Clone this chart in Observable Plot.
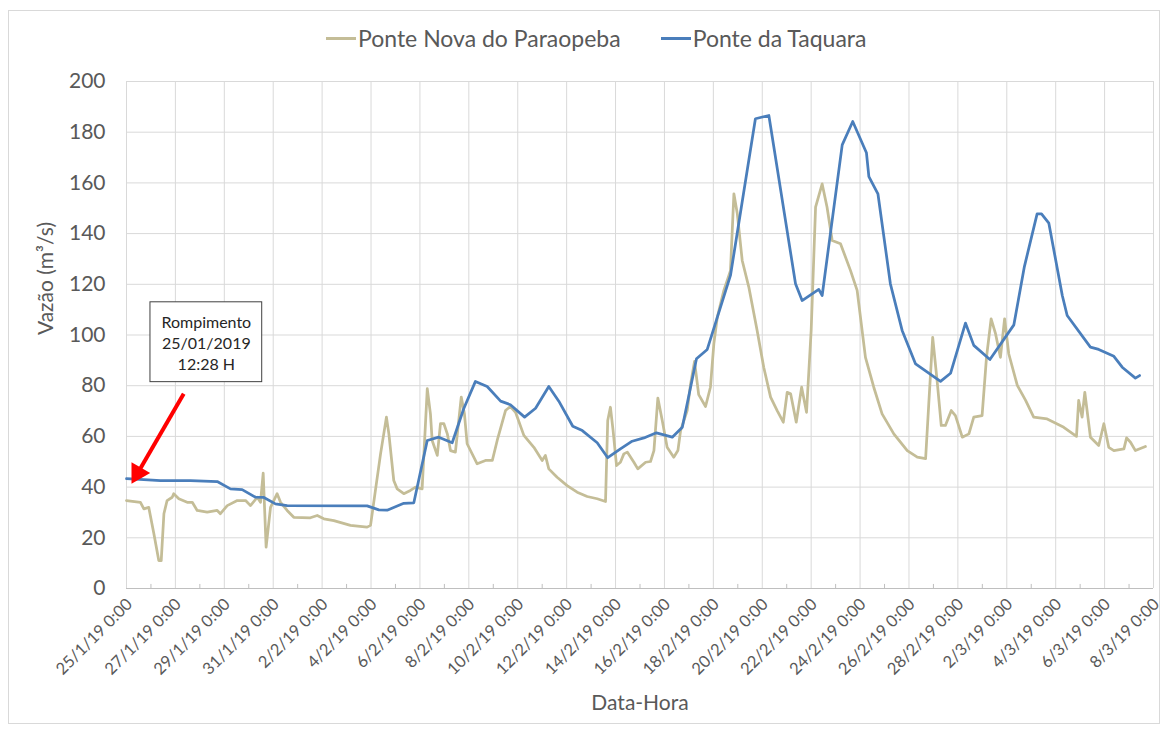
<!DOCTYPE html>
<html>
<head>
<meta charset="utf-8">
<script src="https://cdn.jsdelivr.net/npm/d3@7"></script>
<script src="https://cdn.jsdelivr.net/npm/@observablehq/plot@0.6"></script>
<style>
  html, body { margin: 0; padding: 0; background: #fff; }
  #wrap { position: relative; width: 1170px; height: 733px; font-family: Lato, "Open Sans", sans-serif; }
  #frame { position: absolute; left: 8px; top: 10px; width: 1152px; height: 714px; border: 1px solid #d9d9d9; box-sizing: border-box; pointer-events: none; }
  #legend { position: absolute; top: 23px; left: 326px; display: flex; gap: 40px; font-size: 23px; line-height: 30px; color: #595959; white-space: nowrap; }
  .item { display: flex; align-items: center; gap: 2px; }
  .swatch { width: 30px; height: 3px; display: inline-block; }
  #chart { position: absolute; left: 0; top: 0; }
</style>
</head>
<body>
<div id="wrap">
  <div id="chart"></div>
  <div id="frame"></div>
  <div id="legend"></div>
</div>
<script>
// Base date: 25/01/2019 00:00 (UTC); times are offsets in days from it
const baseDate = Date.UTC(2019, 0, 25);
const seriesNames = ["Ponte Nova do Paraopeba", "Ponte da Taquara"];
const seriesColors = ["#C4BD97", "#4A7EBB"];

// Ponte Nova do Paraopeba
const pnDays = [0, 0.57, 0.71, 0.91, 1.12, 1.32, 1.42, 1.53, 1.66, 1.87, 1.93, 2.14, 2.48, 2.69, 2.89, 3.30, 3.71, 3.84, 4.12, 4.53, 4.87, 5.07, 5.35, 5.48, 5.59, 5.71, 5.89, 6.16, 6.30, 6.57, 6.84, 7.52, 7.80, 8.07, 8.48, 9.16, 9.84, 9.98, 10.18, 10.39, 10.63, 10.73, 10.93, 11.07, 11.34, 11.61, 11.82, 12.09, 12.30, 12.43, 12.50, 12.71, 12.84, 12.98, 13.12, 13.25, 13.45, 13.69, 13.82, 13.93, 14.34, 14.68, 14.96, 15.16, 15.50, 15.70, 15.91, 16.25, 16.66, 17.00, 17.13, 17.27, 17.61, 18.02, 18.43, 18.84, 19.25, 19.59, 19.68, 19.79, 19.90, 20.04, 20.20, 20.34, 20.48, 20.75, 20.91, 21.23, 21.43, 21.57, 21.73, 21.91, 22.11, 22.38, 22.55, 22.66, 22.93, 23.07, 23.23, 23.40, 23.68, 23.88, 24.02, 24.16, 24.43, 24.70, 24.84, 24.98, 25.18, 25.45, 25.79, 26.06, 26.34, 26.61, 26.86, 27.02, 27.16, 27.39, 27.61, 27.81, 28.00, 28.18, 28.45, 28.65, 28.86, 29.20, 29.61, 29.88, 30.22, 30.56, 30.90, 31.38, 31.93, 32.34, 32.68, 32.81, 32.97, 33.15, 33.32, 33.49, 33.73, 33.90, 34.18, 34.45, 34.65, 34.99, 35.17, 35.36, 35.54, 35.74, 35.91, 36.08, 36.43, 36.77, 37.10, 37.65, 37.92, 38.33, 38.85, 38.94, 39.08, 39.19, 39.42, 39.76, 39.97, 40.17, 40.38, 40.79, 40.90, 41.06, 41.26, 41.67];
const pnValues = [34.7, 34.0, 31.4, 32.0, 21.6, 11.0, 11.0, 29.5, 34.7, 36.0, 37.4, 35.4, 34.0, 34.0, 30.8, 30.1, 30.8, 29.5, 32.7, 34.7, 34.7, 32.7, 36.0, 34.0, 45.5, 16.3, 32.0, 37.4, 34.0, 30.8, 28.1, 27.9, 28.8, 27.5, 26.8, 24.9, 24.2, 24.9, 38.7, 53.1, 67.6, 61.0, 42.6, 39.3, 37.4, 38.7, 40.0, 39.3, 78.8, 68.9, 58.4, 52.5, 65.0, 65.0, 61.0, 54.4, 53.8, 75.5, 68.9, 57.1, 49.2, 50.5, 50.5, 58.4, 70.2, 71.8, 69.5, 60.4, 55.7, 50.5, 52.5, 47.2, 43.9, 40.6, 38.0, 36.3, 35.4, 34.3, 66.3, 71.5, 62.3, 48.5, 49.8, 53.1, 53.8, 49.8, 47.2, 49.8, 50.1, 54.4, 75.1, 66.3, 55.7, 51.8, 54.4, 62.3, 70.2, 80.7, 89.6, 76.5, 71.8, 79.4, 96.5, 107.0, 117.6, 125.4, 155.7, 147.8, 129.4, 118.9, 101.8, 87.3, 75.5, 70.2, 65.6, 77.4, 76.8, 65.6, 79.4, 69.5, 101.8, 150.4, 159.6, 150.4, 137.3, 136.0, 125.4, 117.6, 91.2, 79.4, 68.9, 61.0, 54.4, 51.8, 51.2, 72.9, 99.1, 82.0, 64.3, 64.3, 70.2, 68.2, 59.7, 61.0, 67.6, 68.2, 91.2, 106.4, 100.5, 91.2, 106.4, 92.6, 80.1, 74.2, 67.6, 66.9, 65.6, 63.6, 60.0, 74.2, 67.6, 77.4, 59.7, 56.4, 65.0, 55.7, 54.4, 55.1, 59.4, 57.7, 54.4, 56.0];

// Ponte da Taquara
const ptDays = [0, 0.37, 1.39, 2.62, 3.71, 4.25, 4.73, 5.28, 5.62, 6.09, 6.57, 9.84, 10.32, 10.66, 11.34, 11.75, 12.30, 12.77, 13.32, 13.79, 14.27, 14.75, 15.30, 15.70, 16.28, 16.73, 17.27, 17.68, 18.25, 18.64, 19.25, 19.68, 20.20, 20.68, 21.16, 21.67, 22.32, 22.73, 23.31, 23.75, 24.70, 25.72, 26.27, 27.36, 27.63, 28.31, 28.45, 29.27, 29.70, 30.26, 30.36, 30.73, 31.24, 31.72, 32.27, 33.29, 33.70, 34.31, 34.65, 35.31, 36.29, 36.72, 37.24, 37.42, 37.72, 38.27, 38.47, 39.42, 39.76, 40.38, 40.72, 41.26, 41.43];
const ptValues = [43.3, 43.1, 42.6, 42.6, 42.2, 39.3, 39.0, 36.0, 35.9, 33.4, 32.7, 32.6, 31.0, 30.9, 33.6, 33.8, 58.4, 59.7, 57.5, 70.9, 81.7, 79.7, 73.9, 72.5, 67.6, 71.1, 79.7, 73.9, 64.0, 62.3, 57.5, 51.6, 55.1, 58.1, 59.4, 61.4, 59.7, 63.6, 90.6, 94.3, 123.5, 185.3, 186.6, 120.2, 113.6, 118.0, 115.6, 175.0, 184.2, 171.9, 162.5, 155.7, 120.2, 101.8, 88.6, 81.7, 84.9, 104.7, 95.9, 90.3, 104.0, 127.0, 147.8, 147.8, 144.1, 115.6, 107.7, 95.2, 94.3, 91.6, 87.3, 83.0, 84.0];

// Axis ticks
const xLabelDays = d3.range(0, 43, 2);   // every 2 days: 25/1 .. 8/3
const xMinorDays = d3.range(1, 42, 2);   // odd days (minor tick marks)
const yTicks = d3.range(0, 201, 20);

// Annotation
const noteLines = ["Rompimento", "25/01/2019", "12:28 H"];
const noteBox = {d1: 0.98, d2: 5.55, v1: 81.4, v2: 112.9};
const arrowFrom = {d: 2.34, v: 76.8};
const arrowTo = {d: 0.46, v: 45.6};

const toDate = d => new Date(baseDate + d * 864e5);
const rows = [
  ...pnDays.map((d, i) => ({t: toDate(d), v: pnValues[i], s: seriesNames[0]})),
  ...ptDays.map((d, i) => ({t: toDate(d), v: ptValues[i], s: seriesNames[1]}))
];
const fmt = d => `${d.getUTCDate()}/${d.getUTCMonth() + 1}/19 0:00`;
const font = "Lato, 'Open Sans', sans-serif";

const chart = Plot.plot({
  width: 1170,
  height: 733,
  marginLeft: 126,
  marginRight: 17,
  marginTop: 81,
  marginBottom: 145,
  style: {fontFamily: font, background: "transparent", overflow: "visible"},
  x: {type: "utc", domain: [toDate(0), toDate(42)]},
  y: {domain: [0, 200]},
  color: {domain: seriesNames, range: seriesColors},
  marks: [
    Plot.gridX(xLabelDays.map(toDate), {stroke: "#d9d9d9", strokeOpacity: 1, strokeWidth: 1}),
    Plot.gridY(yTicks, {stroke: "#d9d9d9", strokeOpacity: 1, strokeWidth: 1}),
    Plot.ruleY([0], {stroke: "#bfbfbf", strokeWidth: 1}),
    Plot.ruleX(xMinorDays.map(toDate), {y1: 0, y2: 1.6, stroke: "#bfbfbf"}),
    Plot.axisX({ticks: xLabelDays.map(toDate), tickFormat: fmt, tickSize: 0, tickPadding: 13, tickRotate: -45, fontSize: 16.5, fill: "#595959", label: null, dx: 3}),
    Plot.axisY({ticks: yTicks, tickSize: 0, tickPadding: 21, fontSize: 21, fill: "#595959", label: null}),
    Plot.text(["Data-Hora"], {frameAnchor: "bottom", dy: 121, fontSize: 21, fill: "#595959"}),
    Plot.text(["Vazão (m³/s)"], {frameAnchor: "left", dx: -80, rotate: -90, fontSize: 21, fill: "#595959"}),
    Plot.line(rows, {x: "t", y: "v", stroke: "s", z: "s", strokeWidth: 2.75, strokeLinejoin: "round"}),
    Plot.rect([noteBox], {x1: d => toDate(d.d1), x2: d => toDate(d.d2), y1: "v1", y2: "v2", fill: "white", stroke: "#404040", strokeWidth: 1}),
    Plot.text([noteLines.join("\n")], {x: toDate((noteBox.d1 + noteBox.d2) / 2), y: (noteBox.v1 + noteBox.v2) / 2, fontSize: 16, lineHeight: 1.31, fill: "#262626"}),
    Plot.link([{a: arrowFrom, b: arrowTo}], {x1: d => toDate(d.a.d), y1: d => d.a.v, x2: d => toDate(d.b.d), y2: d => d.b.v, stroke: "#ff0000", strokeWidth: 4}),
    Plot.dot([arrowTo], {x: d => toDate(d.d), y: "v", symbol: "triangle", r: 8, fill: "#ff0000", stroke: "none", rotate: 210})
  ]
});
document.getElementById("chart").appendChild(chart);

const legend = document.getElementById("legend");
seriesNames.forEach((name, i) => {
  const item = document.createElement("span");
  item.className = "item";
  const sw = document.createElement("span");
  sw.className = "swatch";
  sw.style.background = seriesColors[i];
  item.appendChild(sw);
  item.appendChild(document.createTextNode(name));
  legend.appendChild(item);
});
</script>
</body>
</html>
